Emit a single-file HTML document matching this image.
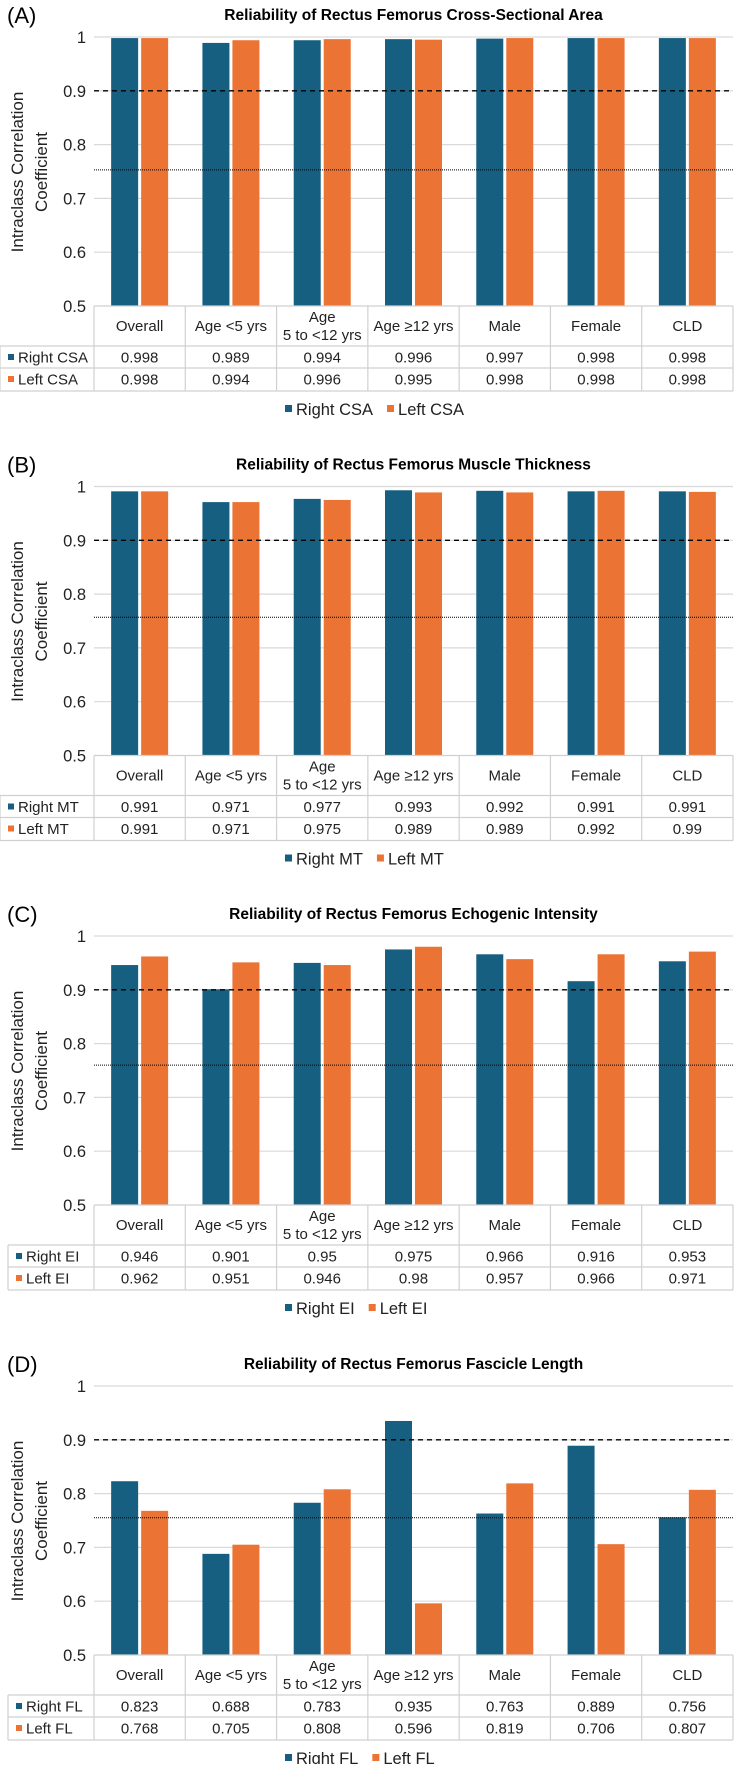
<!DOCTYPE html>
<html><head><meta charset="utf-8">
<style>
html,body{margin:0;padding:0;background:#fff;}
body{width:734px;height:1764px;overflow:hidden;font-family:"Liberation Sans",Arial,sans-serif;}
svg text{font-family:"Liberation Sans",Arial,sans-serif;}
</style></head>
<body>
<svg id="root" width="734" height="1764" viewBox="0 0 734 1764" xmlns="http://www.w3.org/2000/svg"></svg>
<script>
const categories = ["Overall","Age <5 yrs","Age\n5 to <12 yrs","Age \u226512 yrs","Male","Female","CLD"];
const tickLabels = ["0.5","0.6","0.7","0.8","0.9","1"];
const tickValues = [0.5,0.6,0.7,0.8,0.9,1.0];
const panelLetters = ["(A)","(B)","(C)","(D)"];
const panelTitles = ["Reliability of Rectus Femorus Cross-Sectional Area","Reliability of Rectus Femorus Muscle Thickness","Reliability of Rectus Femorus Echogenic Intensity","Reliability of Rectus Femorus Fascicle Length"];
const seriesAbbr = ["CSA","MT","EI","FL"];
const rightA = [0.998,0.989,0.994,0.996,0.997,0.998,0.998];
const leftA  = [0.998,0.994,0.996,0.995,0.998,0.998,0.998];
const rightB = [0.991,0.971,0.977,0.993,0.992,0.991,0.991];
const leftB  = [0.991,0.971,0.975,0.989,0.989,0.992,0.99];
const rightC = [0.946,0.901,0.95,0.975,0.966,0.916,0.953];
const leftC  = [0.962,0.951,0.946,0.98,0.957,0.966,0.971];
const rightD = [0.823,0.688,0.783,0.935,0.763,0.889,0.756];
const leftD  = [0.768,0.705,0.808,0.596,0.819,0.706,0.807];
const excellentLine = [0.9,0.9,0.9,0.9];
const goodLine = [0.753,0.757,0.76,0.755];

const rights=[rightA,rightB,rightC,rightD], lefts=[leftA,leftB,leftC,leftD];
const NS="http://www.w3.org/2000/svg";
const root=document.getElementById('root');
const BLUE="#175f81", ORANGE="#eb7334", GRID="#d9d9d9", BORDER="#d0d0d0";
function mk(tag,attrs,parent,text){const e=document.createElementNS(NS,tag);for(const k in attrs)e.setAttribute(k,attrs[k]);if(text!==undefined)e.textContent=text;parent.appendChild(e);return e;}

const offsets=[0,449.5,899,1349];
const X0=94, X1=733, colW=(X1-X0)/7;
for(let p=0;p<4;p++){
  const oy=offsets[p];
  const g=mk('g',{transform:`translate(0,${oy})`},root);
  
  
  const Y1=37, Y0=306;
  const y=v=>Y0-(v-0.5)/0.5*(Y0-Y1);
  const xc=i=>X0+colW*(i+0.5);
  let t=mk('text',{x:7,y:23,'font-size':22},g,panelLetters[p]);
  
  
  t=mk('text',{x:(X0+X1)/2,y:20,'font-size':15.5,'font-weight':'bold','text-anchor':'middle'},g,panelTitles[p]);
  
  
  tickValues.forEach((v,i)=>{
    if(v>0.5){const l=mk('line',{x1:X0,x2:X1,y1:y(v),y2:y(v),stroke:GRID,'stroke-width':1.2},g);
      
      }
    const tt=mk('text',{x:86,y:y(v)+6,'font-size':16.5,'text-anchor':'end',fill:'#222'},g,tickLabels[i]);
    
    
  });
  const yt=mk('text',{transform:`translate(29,172) rotate(-90)`,'font-size':17,'text-anchor':'middle',fill:'#222'},g);
  
  
  mk('tspan',{x:0,y:-6},yt,'Intraclass Correlation');
  mk('tspan',{x:0,y:18},yt,'Coefficient');
  const bw=27;
  for(let i=0;i<7;i++){
    const c=xc(i);
    const rv=rights[p][i], lv=lefts[p][i];
    let b=mk('rect',{x:c-bw-1.5,y:y(rv),width:bw,height:Y0-y(rv),fill:BLUE},g);
    
    
    b=mk('rect',{x:c+1.5,y:y(lv),width:bw,height:Y0-y(lv),fill:ORANGE},g);
    
    
  }
  let rl=mk('line',{x1:X0,x2:X1,y1:y(excellentLine[p]),y2:y(excellentLine[p]),stroke:'#000','stroke-width':1.3,'stroke-dasharray':'5,4'},g);
  
  
  rl=mk('line',{x1:X0,x2:X1,y1:y(goodLine[p]),y2:y(goodLine[p]),stroke:'#000','stroke-width':1,'stroke-dasharray':'1,1'},g);
  
  
  const tb=mk('g',{},g);
  
  
  const H0=306,H1=346,R1=368,R2=391;
  const tl=p<2?0:8;
  const ln=(x1,y1,x2,y2)=>mk('line',{x1,y1,x2,y2,stroke:BORDER,'stroke-width':1.2},tb);
  ln(X0,H0,X1,H0); ln(tl,H1,X1,H1); ln(tl,R1,X1,R1); ln(tl,R2,X1,R2);
  ln(tl,H1,tl,R2);
  for(let i=0;i<=7;i++){ln(X0+colW*i,H0,X0+colW*i,R2);}
  for(let i=0;i<7;i++){
    const parts=categories[i].split('\n');
    let ct;
    if(parts.length===1){ct=mk('text',{x:xc(i),y:331,'font-size':15,'text-anchor':'middle',fill:'#222'},tb,parts[0]);}
    else{ct=mk('text',{x:xc(i),y:322,'font-size':15,'text-anchor':'middle',fill:'#222'},tb);
      mk('tspan',{x:xc(i),y:322},ct,parts[0]);mk('tspan',{x:xc(i),y:340},ct,parts[1]);}
    
    
    let vt=mk('text',{x:xc(i),y:362.5,'font-size':15,'text-anchor':'middle',fill:'#222'},tb,String(rights[p][i]));
    
    
    vt=mk('text',{x:xc(i),y:384.5,'font-size':15,'text-anchor':'middle',fill:'#222'},tb,String(lefts[p][i]));
    
    
  }
  mk('rect',{x:tl+8,y:354,width:6,height:6,fill:BLUE},tb);
  let rt=mk('text',{x:tl+18,y:362.5,'font-size':15,fill:'#222'},tb,'Right '+seriesAbbr[p]);
  
  
  mk('rect',{x:tl+8,y:376,width:6,height:6,fill:ORANGE},tb);
  rt=mk('text',{x:tl+18,y:384.5,'font-size':15,fill:'#222'},tb,'Left '+seriesAbbr[p]);
  
  
  const lg=mk('g',{},g);
  
  
  const lx = 285;
  mk('rect',{x:lx,y:405,width:7,height:7,fill:BLUE},lg);
  let le=mk('text',{x:lx+11,y:415,'font-size':16.5,fill:'#222'},lg,'Right '+seriesAbbr[p]);
  
  
  const ox=lx+11+le.getComputedTextLength()+14;
  mk('rect',{x:ox,y:405,width:7,height:7,fill:ORANGE},lg);
  le=mk('text',{x:ox+11,y:415,'font-size':16.5,fill:'#222'},lg,'Left '+seriesAbbr[p]);
  
  
}
</script>
</body></html>
